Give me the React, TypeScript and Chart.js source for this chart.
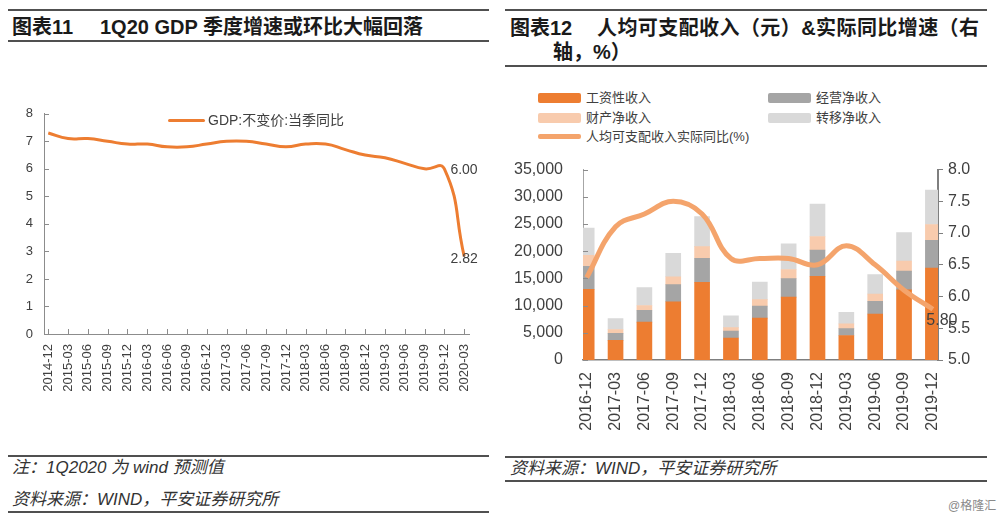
import React, { useEffect, useRef } from 'react';
import { Chart, registerables } from 'chart.js';

Chart.register(...registerables);

const FONT = '"Liberation Sans", Arial, "Noto Sans CJK SC", sans-serif';
Chart.defaults.font.family = FONT;

// ---------- 图表11 data ----------
const gdpQuarters = [
  '2014-12', '2015-03', '2015-06', '2015-09', '2015-12', '2016-03', '2016-06', '2016-09',
  '2016-12', '2017-03', '2017-06', '2017-09', '2017-12', '2018-03', '2018-06', '2018-09',
  '2018-12', '2019-03', '2019-06', '2019-09', '2019-12', '2020-03',
];
const gdpGrowth = [
  7.3, 7.1, 7.1, 7.0, 6.9, 6.9, 6.8, 6.8, 6.9, 7.0, 7.0, 6.9, 6.8, 6.9, 6.9, 6.7, 6.5, 6.4, 6.2,
  6.0, 6.0, 2.82,
];
const gdpSeriesName = 'GDP:不变价:当季同比';
const gdpAxisMin = 0;
const gdpAxisMax = 8;
const gdpAxisStep = 1;

// ---------- 图表12 data ----------
const incomeQuarters = [
  '2016-12', '2017-03', '2017-06', '2017-09', '2017-12', '2018-03', '2018-06', '2018-09',
  '2018-12', '2019-03', '2019-06', '2019-09', '2019-12',
];
const wageIncome = [13000, 3600, 6950, 10700, 14300, 4050, 7700, 11550, 15400, 4500, 8450, 12900, 16900];
const businessIncome = [4200, 1300, 2200, 3150, 4400, 1270, 2200, 3400, 4800, 1270, 2350, 3450, 5100];
const propertyIncome = [2050, 700, 870, 1450, 2150, 640, 1200, 1680, 2500, 870, 1330, 1850, 2900];
const transferIncome = [5000, 2000, 3300, 4330, 5500, 2140, 3240, 4740, 5950, 2140, 3580, 5200, 6350];
const realGrowth = [6.3, 7.1, 7.3, 7.5, 7.3, 6.6, 6.6, 6.6, 6.5, 6.8, 6.5, 6.1, 5.8];
const incomeSeriesNames = ['工资性收入', '经营净收入', '财产净收入', '转移净收入'];
const growthSeriesName = '人均可支配收入实际同比(%)';
const incomeAxisMax = 35000;
const incomeAxisStep = 5000;
const growthAxisMin = 5;
const growthAxisMax = 8;
const growthAxisStep = 0.5;

// ---------- styles ----------
const ORANGE = '#ED7D31';
const GROWTH_LINE = '#F4A46C';
const BAR_COLORS = ['#ED7D31', '#A5A5A5', '#F8CBAD', '#D9D9D9'];
const TEXT = '#404040';
const AXIS = '#8c8c8c';

type Mark = { axis: string; side: 'right' | 'up'; length: number; color: string };
const tickMarks = (marks: Mark[]) => ({
  id: 'tickMarks',
  afterDatasetsDraw(chart: any) {
    const ctx = chart.ctx;
    ctx.save();
    ctx.lineWidth = 1;
    marks.forEach((m) => {
      const s = chart.scales[m.axis];
      ctx.strokeStyle = m.color;
      s.ticks.forEach((_: any, i: number) => {
        const p = Math.round(s.getPixelForTick(i)) + 0.5;
        ctx.beginPath();
        if (m.side === 'right') {
          ctx.moveTo(s.right, p);
          ctx.lineTo(s.right + m.length, p);
        } else {
          ctx.moveTo(p, s.top);
          ctx.lineTo(p, s.top - m.length);
        }
        ctx.stroke();
      });
    });
    ctx.restore();
  },
});

type LabelSpec = { index: number; dx: number; dy: number; align: CanvasTextAlign };
const valueLabels = (datasetIndex: number, specs: LabelSpec[], size: number) => ({
  id: 'valueLabels',
  afterDatasetsDraw(chart: any) {
    const ctx = chart.ctx;
    const meta = chart.getDatasetMeta(datasetIndex);
    const ds = chart.data.datasets[datasetIndex];
    ctx.save();
    ctx.font = `${size}px ${FONT}`;
    ctx.fillStyle = TEXT;
    ctx.textBaseline = 'middle';
    specs.forEach((sp) => {
      const el = meta.data[sp.index];
      const v = ds.data[sp.index].y;
      ctx.textAlign = sp.align;
      ctx.fillText(Number(v).toFixed(2), el.x + sp.dx, el.y + sp.dy);
    });
    ctx.restore();
  },
});

function GdpChart() {
  const ref = useRef<HTMLCanvasElement>(null);
  useEffect(() => {
    const chart = new Chart(ref.current as HTMLCanvasElement, {
      type: 'line',
      data: {
        datasets: [
          {
            label: gdpSeriesName,
            data: gdpGrowth.map((v, i) => ({ x: i, y: v })),
            borderColor: ORANGE,
            backgroundColor: ORANGE,
            borderWidth: 3,
            pointRadius: 0,
            tension: 0.5,
            fill: false,
          },
        ],
      },
      options: {
        animation: false,
        responsive: false,
        maintainAspectRatio: false,
        layout: { padding: { left: 0, right: 18, top: 13, bottom: 0 } },
        plugins: { legend: { display: false }, tooltip: { enabled: false } },
        scales: {
          x: {
            type: 'linear',
            offset: false,
            min: -0.216,
            max: 21.26,
            afterBuildTicks: (s: any) => {
              s.ticks = gdpQuarters.map((_, i) => ({ value: i }));
            },
            afterFit: (s: any) => {
              s.height = 71;
            },
            grid: { display: false, drawTicks: false },
            border: { display: true, color: AXIS, width: 1 },
            ticks: {
              autoSkip: false,
              minRotation: 90,
              maxRotation: 90,
              padding: 10,
              color: TEXT,
              font: { size: 13 },
              callback: (v: any) => gdpQuarters[v] ?? '',
            },
          },
          y: {
            min: gdpAxisMin,
            max: gdpAxisMax,
            afterFit: (s: any) => {
              s.width = 44;
            },
            grid: { display: false, drawTicks: false },
            border: { display: true, color: AXIS, width: 1 },
            ticks: { stepSize: gdpAxisStep, padding: 11, color: TEXT, font: { size: 13 } },
          },
        },
      } as any,
      plugins: [
        tickMarks([
          { axis: 'y', side: 'right', length: 5, color: AXIS },
          { axis: 'x', side: 'up', length: 5, color: AXIS },
        ]),
        valueLabels(0, [
          { index: gdpQuarters.length - 2, dx: 6, dy: 1.5, align: 'left' },
          { index: gdpQuarters.length - 1, dx: 0, dy: 3, align: 'center' },
        ], 14),
      ],
    });
    return () => chart.destroy();
  }, []);
  return (
    <canvas
      ref={ref}
      width={490}
      height={310}
      style={{ position: 'absolute', left: 0, top: 95, width: 490, height: 310 }}
    />
  );
}

function IncomeChart() {
  const ref = useRef<HTMLCanvasElement>(null);
  useEffect(() => {
    const barSeries = [wageIncome, businessIncome, propertyIncome, transferIncome];
    const chart = new Chart(ref.current as HTMLCanvasElement, {
      type: 'bar',
      data: {
        datasets: [
          {
            type: 'line',
            label: growthSeriesName,
            data: realGrowth.map((v, i) => ({ x: i, y: v })),
            yAxisID: 'y1',
            borderColor: GROWTH_LINE,
            backgroundColor: GROWTH_LINE,
            borderWidth: 5,
            pointRadius: 0,
            tension: 0.4,
            fill: false,
            order: 0,
          },
          ...barSeries.map((vals, k) => ({
            type: 'bar',
            label: incomeSeriesNames[k],
            data: vals.map((v, i) => ({ x: i, y: v })),
            yAxisID: 'y',
            backgroundColor: BAR_COLORS[k],
            barThickness: 15,
            stack: 'income',
            order: 1,
          })),
        ],
      } as any,
      options: {
        animation: false,
        responsive: false,
        maintainAspectRatio: false,
        layout: { padding: { left: 0, right: 0, top: 18, bottom: 0 } },
        plugins: { legend: { display: false }, tooltip: { enabled: false } },
        scales: {
          x: {
            type: 'linear',
            stacked: true,
            offset: false,
            min: -0.128,
            max: 12.177,
            afterBuildTicks: (s: any) => {
              s.ticks = incomeQuarters.map((_, i) => ({ value: i }));
            },
            afterFit: (s: any) => {
              s.height = 80;
            },
            grid: { display: false, drawTicks: false, offset: false },
            border: { display: true, color: '#7f7f7f', width: 1.5 },
            ticks: {
              autoSkip: false,
              minRotation: 90,
              maxRotation: 90,
              padding: 12,
              color: TEXT,
              font: { size: 16 },
              callback: (v: any) => incomeQuarters[v] ?? '',
            },
          },
          y: {
            stacked: true,
            min: 0,
            max: incomeAxisMax,
            position: 'left',
            afterFit: (s: any) => {
              s.width = 83;
            },
            grid: { display: false, drawTicks: false },
            border: { display: true, color: '#a6a6a6', width: 1 },
            ticks: {
              stepSize: incomeAxisStep,
              padding: 20,
              color: TEXT,
              font: { size: 16 },
              callback: (v: any) => Number(v).toLocaleString('en-US'),
            },
          },
          y1: {
            min: growthAxisMin,
            max: growthAxisMax,
            position: 'right',
            afterFit: (s: any) => {
              s.width = 62;
            },
            grid: { display: true, drawOnChartArea: false, drawTicks: true, tickLength: 5, color: '#7f7f7f' },
            border: { display: true, color: '#7f7f7f', width: 2 },
            ticks: {
              stepSize: growthAxisStep,
              padding: 5,
              color: TEXT,
              font: { size: 16 },
              callback: (v: any) => Number(v).toFixed(1),
            },
          },
        },
      } as any,
      plugins: [
        tickMarks([{ axis: 'y', side: 'right', length: 5, color: '#8c8c8c' }]),
        valueLabels(0, [{ index: incomeQuarters.length - 1, dx: 9, dy: 11, align: 'center' }], 16),
      ],
    });
    return () => chart.destroy();
  }, []);
  return (
    <canvas
      ref={ref}
      width={500}
      height={300}
      style={{ position: 'absolute', left: 500, top: 140, width: 500, height: 300 }}
    />
  );
}

const rule = (left: number, top: number, width: number) => (
  <div style={{ position: 'absolute', left, top, width, height: 2, background: '#505050' }} />
);

const text = (
  content: string,
  left: number,
  centerY: number,
  size: number,
  extra: React.CSSProperties = {}
) => (
  <div
    style={{
      position: 'absolute',
      left,
      top: centerY - size * 0.6,
      fontSize: size,
      lineHeight: `${size * 1.2}px`,
      whiteSpace: 'nowrap',
      color: '#262626',
      ...extra,
    }}
  >
    {content}
  </div>
);

function LegendSwatch({ left, centerY, width, height, color }: any) {
  return (
    <div
      style={{
        position: 'absolute',
        left,
        top: centerY - height / 2,
        width,
        height,
        background: color,
        borderRadius: 2,
      }}
    />
  );
}

export default function App() {
  const legendRows = [
    { col: 0, row: 0, k: 0 },
    { col: 1, row: 0, k: 1 },
    { col: 0, row: 1, k: 2 },
    { col: 1, row: 1, k: 3 },
  ];
  const colX = [538, 768];
  const rowY = [98, 118];
  return (
    <div
      style={{
        position: 'absolute',
        left: 0,
        top: 0,
        width: 1000,
        height: 519,
        background: '#ffffff',
        overflow: 'hidden',
        fontFamily: FONT,
      }}
    >
      {/* Left panel */}
      {rule(8, 9, 481)}
      {text('图表11', 12, 27, 20, { fontWeight: 700, color: '#1a1a1a' })}
      {text('1Q20 GDP 季度增速或环比大幅回落', 100, 27, 20, { fontWeight: 700, color: '#1a1a1a' })}
      {rule(8, 40, 481)}
      <GdpChart />
      <LegendSwatch left={168} centerY={120} width={37} height={3} color={ORANGE} />
      {text(gdpSeriesName, 208, 120, 14, { color: TEXT })}
      {rule(8, 455, 481)}
      {text('注：1Q2020 为 wind 预测值', 12, 468, 17, { fontStyle: 'italic', color: '#333' })}
      {text('资料来源：WIND，平安证券研究所', 12, 500, 17, { fontStyle: 'italic', color: '#333' })}
      {rule(8, 511, 481)}

      {/* Right panel */}
      {rule(505, 9, 482)}
      {text('图表12', 510, 28, 20, { fontWeight: 700, color: '#1a1a1a' })}
      <div
        style={{
          position: 'absolute',
          left: 597,
          top: 28 - 12,
          width: 382,
          fontSize: 20,
          lineHeight: '24px',
          fontWeight: 700,
          color: '#1a1a1a',
          textAlign: 'justify',
          textAlignLast: 'justify' as any,
          whiteSpace: 'nowrap',
        }}
      >
        人均可支配收入（元）&amp;实际同比增速（右
      </div>
      {text('轴，%）', 553, 52, 20, { fontWeight: 700, color: '#1a1a1a' })}
      {rule(505, 65, 482)}
      {legendRows.map(({ col, row, k }) => (
        <React.Fragment key={k}>
          <LegendSwatch left={colX[col]} centerY={rowY[row]} width={43} height={10} color={BAR_COLORS[k]} />
          {text(incomeSeriesNames[k], colX[col] + 48, rowY[row], 13, { color: TEXT })}
        </React.Fragment>
      ))}
      <LegendSwatch left={538} centerY={136.5} width={43} height={5} color={GROWTH_LINE} />
      {text(growthSeriesName, 586, 136.5, 13, { color: TEXT })}
      <IncomeChart />
      {rule(505, 456, 482)}
      {text('资料来源：WIND，平安证券研究所', 510, 469, 17, { fontStyle: 'italic', color: '#333' })}
      {rule(505, 480, 482)}
      {text('@格隆汇', 948, 506, 12, { color: '#8a8a8a' })}
    </div>
  );
}
